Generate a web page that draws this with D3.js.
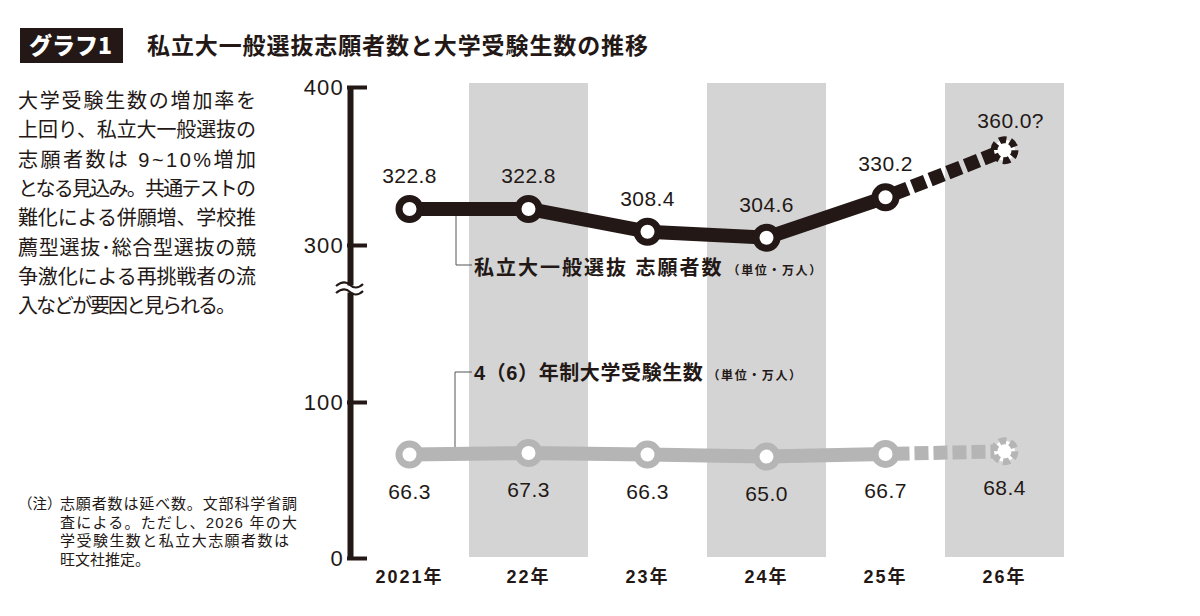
<!DOCTYPE html>
<html><head><meta charset="utf-8">
<script src="https://cdn.jsdelivr.net/npm/d3@7"></script>
<style>
html,body{margin:0;padding:0;background:#fff;}
svg{display:block;}
</style></head>
<body><svg id="chart" width="1200" height="616"></svg>
<script>
// ---- data ----
const categories = ["2021年","22年","23年","24年","25年","26年"];
const applicants = [322.8, 322.8, 308.4, 304.6, 330.2, 360.0];   // 私立大一般選抜 志願者数 (万人)
const examinees  = [66.3, 67.3, 66.3, 65.0, 66.7, 68.4];         // 4(6)年制大学受験生数 (万人)
const estimated  = [false,false,false,false,false,true];
const yTicks = [0, 100, 300, 400];
const titleTag = "グラフ1";
const titleText = "私立大一般選抜志願者数と大学受験生数の推移";
const seriesNames = ["私立大一般選抜 志願者数", "4（6）年制大学受験生数"];
const unitText = "（単位・万人）";
const sideText = ["大学受験生数の増加率を","上回り、私立大一般選抜の","志願者数は 9~10%増加","となる見込み。共通テストの","難化による併願増、学校推","薦型選抜･総合型選抜の競","争激化による再挑戦者の流","入などが要因と見られる。"];
const noteHead = "（注）";
const noteText = ["志願者数は延べ数。文部科学省調","査による。ただし、2026 年の大","学受験生数と私立大志願者数は","旺文社推定。"];

const INK = "#231815", GREY = "#b5b5b5", BAND = "#d4d4d4";
const JP = "'Noto Sans CJK JP', sans-serif";
const NUM = "'Liberation Sans', 'Noto Sans CJK JP', sans-serif";

const svg = d3.select("#chart");

// scales
const x = d3.scaleBand().domain(categories).range([350, 1064]).padding(0);
// broken axis: 100–300 compressed
const y = d3.scaleLinear().domain([0, 100, 300, 400]).range([558, 402, 245, 87]);
const cx = d => x(d) + x.bandwidth() / 2;

// bands
svg.append("g").selectAll("rect")
  .data(categories.filter((d, i) => i % 2 === 1))
  .join("rect")
  .attr("x", d => x(d)).attr("width", x.bandwidth())
  .attr("y", 83).attr("height", 557 - 83)
  .attr("fill", BAND);

// title
svg.append("rect").attr("x", 20).attr("y", 28).attr("width", 103).attr("height", 35).attr("fill", INK);
svg.append("text").attr("x", 29).attr("y", 54).text(titleTag)
  .attr("font-family", JP).attr("font-weight", 900).attr("font-size", 23).attr("fill", "#fff");
svg.append("text").attr("x", 147).attr("y", 54).text(titleText)
  .attr("font-family", JP).attr("font-weight", 700).attr("font-size", 23).attr("letter-spacing", 0.9).attr("fill", INK);

// side text (justified lines)
svg.append("g").selectAll("text").data(sideText).join("text")
  .attr("x", 18).attr("y", (d, i) => 108 + i * 29.3)
  .attr("font-family", NUM).attr("font-size", 20)
  .attr("textLength", (d, i) => i === sideText.length - 1 ? 218 : 238)
  .attr("lengthAdjust", "spacing")
  .attr("fill", INK).text(d => d);

// note
svg.append("text").attr("x", 18).attr("y", 509).text(noteHead)
  .attr("font-family", JP).attr("font-size", 14.5).attr("fill", INK);
svg.append("g").selectAll("text").data(noteText).join("text")
  .attr("x", 60).attr("y", (d, i) => 509 + i * 18.5)
  .attr("font-family", NUM).attr("font-size", 15)
  .attr("textLength", (d, i) => [237, 237, 229, null][i])
  .attr("lengthAdjust", "spacing")
  .attr("fill", INK).text(d => d);

// y axis
const yAxis = svg.append("g").attr("transform", "translate(350,0)")
  .call(d3.axisLeft(y).tickValues(yTicks).tickSizeInner(-17).tickSizeOuter(0).tickPadding(8).tickFormat(d3.format("d")));
yAxis.select(".domain").attr("stroke", INK).attr("stroke-width", 6);
yAxis.selectAll(".tick line").attr("stroke", INK).attr("stroke-width", 4).attr("x1", -3);
yAxis.selectAll(".tick text").attr("font-family", NUM).attr("font-size", 22).attr("letter-spacing", 1.2).attr("fill", INK)
  .attr("x", -6);

// axis break
const brk = svg.append("g");
brk.append("rect").attr("x", 345).attr("y", 285.5).attr("width", 10).attr("height", 7).attr("fill", "#fff");
[285, 292].forEach(yy => {
  brk.append("path")
    .attr("d", `M336,${yy + 1} C342,${yy - 4} 347,${yy - 3} 350,${yy} S358,${yy + 4} 363,${yy - 1}`)
    .attr("fill", "none").attr("stroke", INK).attr("stroke-width", 2.2);
});

// x axis labels
const xAxis = svg.append("g").attr("transform", "translate(0,566)")
  .call(d3.axisBottom(x).tickSize(0).tickPadding(0));
xAxis.select(".domain").remove();
xAxis.selectAll("text").attr("font-family", NUM).attr("font-weight", 700).attr("font-size", 18)
  .attr("letter-spacing", 2).attr("fill", INK).attr("dy", "0.95em");

// leader lines + series labels
svg.append("path").attr("d", `M456,${y(applicants[0]) + 7}V265H472`).attr("fill", "none").attr("stroke", "#555").attr("stroke-width", 1);
svg.append("path").attr("d", `M455,${y(examinees[0]) - 7}V372H472`).attr("fill", "none").attr("stroke", "#555").attr("stroke-width", 1);

function seriesLabel(name, yy, ls) {
  const t = svg.append("text").attr("x", 474).attr("y", yy)
    .attr("font-family", NUM).attr("font-weight", 700).attr("font-size", 20).attr("fill", INK);
  t.append("tspan").attr("letter-spacing", ls).text(name);
  t.append("tspan").attr("dx", 4).attr("font-size", 12).attr("letter-spacing", 1.6).attr("font-family", JP).text(unitText);
}
seriesLabel(seriesNames[0], 275, 2);
seriesLabel(seriesNames[1], 380, 0.6);

// series drawing
function drawSeries(values, color, labelAbove) {
  const pts = values.map((v, i) => ({c: categories[i], v, est: estimated[i]}));
  const line = d3.line().x(d => cx(d.c)).y(d => y(d.v));
  const solid = pts.filter(d => !d.est);
  const lastSolid = solid[solid.length - 1];
  const dashed = [lastSolid, ...pts.filter(d => d.est)];
  const g = svg.append("g");
  g.append("path").attr("d", line(solid)).attr("fill", "none").attr("stroke", color)
    .attr("stroke-width", 14).attr("stroke-linejoin", "round");
  g.append("path").attr("d", line(dashed)).attr("fill", "none").attr("stroke", color)
    .attr("stroke-width", 14).attr("stroke-dasharray", "14 5").attr("stroke-dashoffset", -10);
  g.selectAll("circle").data(pts).join("circle")
    .attr("cx", d => cx(d.c)).attr("cy", d => y(d.v)).attr("r", 10.5)
    .attr("fill", "#fff").attr("stroke", color).attr("stroke-width", 7)
    .attr("stroke-dasharray", d => d.est ? "7 4" : null);
  const lg = svg.append("g");
  pts.forEach(d => {
    const t = lg.append("text")
      .attr("y", labelAbove ? y(d.v) - (d.est ? 22 : 26) : y(d.v) + 44)
      .attr("font-family", NUM).attr("font-size", 21).attr("letter-spacing", 0.4).attr("fill", INK);
    t.append("tspan").text(d3.format(".1f")(d.v));
    if (d.est && labelAbove) t.append("tspan").text("?");
    const w0 = t.select("tspan").node().getComputedTextLength();
    t.attr("x", cx(d.c) - w0 / 2);
  });
}
drawSeries(examinees, GREY, false);
drawSeries(applicants, INK, true);
</script></body></html>
